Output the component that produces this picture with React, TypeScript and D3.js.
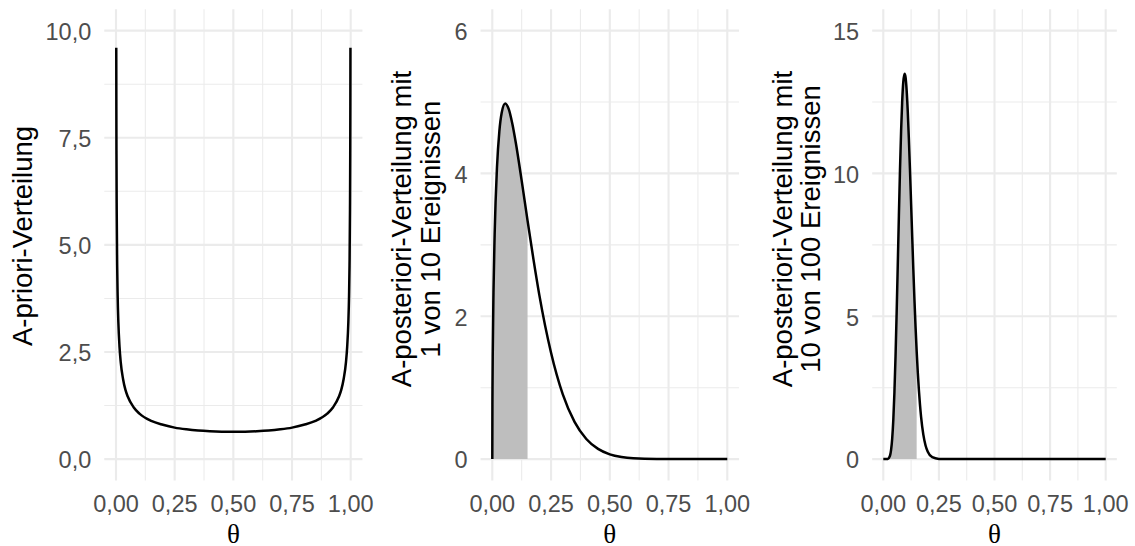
import React from "react";
import * as d3 from "d3";

// ---------- data ----------
const priorTheta = [0.0011, 0.0015, 0.002, 0.003, 0.005, 0.007, 0.01, 0.015, 0.02, 0.03, 0.04, 0.05, 0.075, 0.1, 0.15, 0.2, 0.25, 0.3, 0.35, 0.4, 0.45, 0.5,
  0.55, 0.6, 0.65, 0.7, 0.75, 0.8, 0.85, 0.9, 0.925, 0.95, 0.96, 0.97, 0.98, 0.985, 0.99, 0.993, 0.995, 0.997, 0.998, 0.9985, 0.9989];
const priorDensity = [9.6, 8.22, 7.12, 5.82, 4.51, 3.82, 3.2, 2.62, 2.27, 1.87, 1.62, 1.46, 1.21, 1.06, 0.89, 0.8, 0.735, 0.695, 0.667, 0.65, 0.64, 0.637,
  0.64, 0.65, 0.667, 0.695, 0.735, 0.8, 0.89, 1.06, 1.21, 1.46, 1.62, 1.87, 2.27, 2.62, 3.2, 3.82, 4.51, 5.82, 7.12, 8.22, 9.6];

const post1Theta = [0, 0.0005, 0.001, 0.002, 0.005, 0.01, 0.02, 0.03, 0.04, 0.055, 0.07, 0.085, 0.1, 0.125, 0.15, 0.175, 0.2, 0.25, 0.3, 0.35, 0.4, 0.45, 0.5, 0.55, 0.6, 0.7, 0.8, 0.9, 1];
const post1Density = [0, 0.76, 1.08, 1.51, 2.33, 3.15, 4.09, 4.59, 4.85, 4.98, 4.9, 4.7, 4.43, 3.9, 3.34, 2.8, 2.3, 1.49, 0.907, 0.522, 0.282, 0.143, 0.067, 0.029, 0.011, 0.001, 0, 0, 0];

const post2Theta = [0, 0.01, 0.02, 0.03, 0.035, 0.04, 0.045, 0.05, 0.055, 0.06, 0.065, 0.07, 0.075, 0.08, 0.085, 0.09, 0.096, 0.1, 0.105, 0.11, 0.115, 0.12, 0.125, 0.13, 0.135, 0.14, 0.145, 0.15,
  0.155, 0.16, 0.165, 0.17, 0.18, 0.19, 0.2, 0.22, 0.25, 0.3, 0.4, 0.5, 0.6, 0.7, 0.8, 0.9, 1];
const post2Density = [0, 0.00002, 0.0063, 0.118, 0.32, 0.715, 1.372, 2.333, 3.598, 5.115, 6.782, 8.494, 10.098, 11.477, 12.534, 13.212, 13.493, 13.371, 12.909, 12.163, 11.207, 10.113, 8.95, 7.778, 6.646, 5.588, 4.627, 3.779,
  3.042, 2.419, 1.898, 1.473, 0.857, 0.478, 0.256, 0.066, 0.0066, 0.0001, 0, 0, 0, 0, 0, 0, 0];

const shadeLimit = 0.15;

const xTicks = [0, 0.25, 0.5, 0.75, 1];
const xTickLabels = ["0,00", "0,25", "0,50", "0,75", "1,00"];
const xMinor = [0.125, 0.375, 0.625, 0.875];

const priorYTicks = [0, 2.5, 5, 7.5, 10];
const priorYLabels = ["0,0", "2,5", "5,0", "7,5", "10,0"];
const priorYMinor = [1.25, 3.75, 6.25, 8.75];

const post1YTicks = [0, 2, 4, 6];
const post1YLabels = ["0", "2", "4", "6"];
const post1YMinor = [1, 3, 5];

const post2YTicks = [0, 5, 10, 15];
const post2YLabels = ["0", "5", "10", "15"];
const post2YMinor = [2.5, 7.5, 12.5];

const titles = [
  ["A-priori-Verteilung"],
  ["A-posteriori-Verteilung mit", "1 von 10 Ereignissen"],
  ["A-posteriori-Verteilung mit", "10 von 100 Ereignissen"],
];

// ---------- layout ----------
const W = 1135, H = 546;
const Y0PX = 459.1, YTOPPX = 30.6;
const panelDefs = [
  { x0: 116, x1: 350.7, ymax: 10, theta: priorTheta, dens: priorDensity, shade: false, yT: priorYTicks, yL: priorYLabels, yM: priorYMinor, titleX: [32.4], titleY: 236 },
  { x0: 492.3, x1: 727.3, ymax: 6, theta: post1Theta, dens: post1Density, shade: true, yT: post1YTicks, yL: post1YLabels, yM: post1YMinor, titleX: [411.4, 440.2], titleY: 229 },
  { x0: 883.3, x1: 1105.7, ymax: 15, theta: post2Theta, dens: post2Density, shade: true, yT: post2YTicks, yL: post2YLabels, yM: post2YMinor, titleX: [791.5, 820.3], titleY: 229 },
];

const SANS = "'Liberation Sans', Arial, Helvetica, sans-serif";
const SERIF = "'Liberation Serif', 'Times New Roman', serif";
const GRID = "#EBEBEB";

function Panel({ p, i }: { p: any; i: number }) {
  const x = d3.scaleLinear().domain([0, 1]).range([p.x0, p.x1]);
  const y = d3.scaleLinear().domain([0, p.ymax]).range([Y0PX, YTOPPX]);
  const [xl, xr] = [x(-0.05), x(1.05)];
  const [yb, yt] = [y(-0.05 * p.ymax), y(1.05 * p.ymax)];
  const pts: [number, number][] = p.theta.map((t: number, k: number) => [t, p.dens[k]]);
  const line = d3.line<[number, number]>().x((d) => x(d[0])).y((d) => y(d[1])).curve(d3.curveMonotoneX);
  const area = d3.area<[number, number]>().x((d) => x(d[0])).y0(y(0)).y1((d) => y(d[1])).curve(d3.curveMonotoneX);
  const shadePts = pts.filter((d) => d[0] <= shadeLimit);
  const midX = (xl + xr) / 2;
  return (
    <g>
      {/* minor grid */}
      {p.yM.map((v: number) => (
        <line key={"ym" + v} x1={xl} x2={xr} y1={y(v)} y2={y(v)} stroke={GRID} strokeWidth={1.07} />
      ))}
      {xMinor.map((v) => (
        <line key={"xm" + v} x1={x(v)} x2={x(v)} y1={yb} y2={yt} stroke={GRID} strokeWidth={1.07} />
      ))}
      {/* major grid */}
      {p.yT.map((v: number) => (
        <line key={"yM" + v} x1={xl} x2={xr} y1={y(v)} y2={y(v)} stroke={GRID} strokeWidth={2.13} />
      ))}
      {xTicks.map((v) => (
        <line key={"xM" + v} x1={x(v)} x2={x(v)} y1={yb} y2={yt} stroke={GRID} strokeWidth={2.13} />
      ))}
      {p.shade && <path d={area(shadePts) || ""} fill="#BEBEBE" stroke="none" />}
      <path d={line(pts) || ""} fill="none" stroke="#000" strokeWidth={2.5} strokeLinejoin="round" strokeLinecap="butt" />
      {/* y tick labels */}
      {p.yT.map((v: number, k: number) => (
        <text key={"yl" + v} x={xl - 13} y={y(v) + 9.3} textAnchor="end" fontFamily={SANS} fontSize={23.5} fill="#4D4D4D">
          {p.yL[k]}
        </text>
      ))}
      {/* x tick labels */}
      {xTicks.map((v, k) => (
        <text key={"xl" + v} x={x(v)} y={511.8} textAnchor="middle" fontFamily={SANS} fontSize={23.5} fill="#4D4D4D">
          {xTickLabels[k]}
        </text>
      ))}
      {/* x title */}
      <text x={midX} y={543} textAnchor="middle" fontFamily={SERIF} fontSize={27} fill="#000">
        θ
      </text>
      {/* y title */}
      {titles[i].map((s, k) => (
        <text key={"t" + k} transform={`translate(${p.titleX[k]},${p.titleY}) rotate(-90)`} textAnchor="middle" fontFamily={SANS} fontSize={27.5} fill="#000">
          {s}
        </text>
      ))}
    </g>
  );
}

export default function App() {
  return (
    <svg width={W} height={H} viewBox={`0 0 ${W} ${H}`} style={{ position: "absolute", left: 0, top: 0, background: "#fff" }}>
      <rect x={0} y={0} width={W} height={H} fill="#fff" />
      {panelDefs.map((p, i) => (
        <Panel key={i} p={p} i={i} />
      ))}
    </svg>
  );
}
